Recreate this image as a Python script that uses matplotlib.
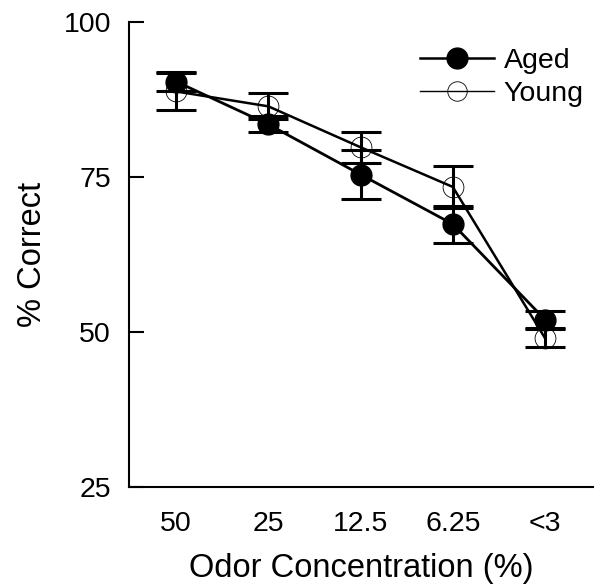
import matplotlib.pyplot as plt
from matplotlib.lines import Line2D

plt.rcParams['font.family'] = ['Liberation Sans', 'DejaVu Sans']

concentrations = ['50', '25', '12.5', '6.25', '<3']
aged = [90.4, 83.5, 75.4, 67.4, 52.0]
aged_err = [1.5, 1.3, 4.0, 3.0, 1.4]
young = [88.8, 86.4, 79.8, 73.4, 49.0]
young_err = [3.0, 2.1, 2.5, 3.4, 1.5]
y_ticks = [25, 50, 75, 100]

fig = plt.figure(figsize=(5.96, 5.87), dpi=100)
ax = fig.add_axes([0.2164, 0.1704, 0.7786, 0.7921])

x = list(range(len(concentrations)))

# error bars first, then lines + markers on top
ax.errorbar(x, young, yerr=young_err, fmt='none', ecolor='black',
            capsize=14.5, capthick=2.2, elinewidth=2.2, zorder=2)
ax.errorbar(x, aged, yerr=aged_err, fmt='none', ecolor='black',
            capsize=14.5, capthick=2.2, elinewidth=2.2, zorder=2)
ax.plot(x, young, color='black', lw=1.8, marker='o', ms=15,
        mfc='none', mec='black', mew=0.6, zorder=3)
ax.plot(x, aged, color='black', lw=2.0, marker='o', ms=15,
        mfc='black', mec='black', zorder=4)

ax.set_xlim(-0.51, 4.52)
ax.set_ylim(25, 100)
ax.set_yticks(y_ticks)
ax.set_xticks(x)
ax.set_xticklabels(concentrations)
ax.tick_params(axis='y', direction='in', length=11, width=1.5, labelsize=20.5, pad=13)
ax.tick_params(axis='x', length=0, labelsize=20.5, pad=17)

for s in ['top', 'right']:
    ax.spines[s].set_visible(False)
ax.spines['left'].set_linewidth(1.5)
ax.spines['bottom'].set_linewidth(1.5)

ax.set_xlabel('Odor Concentration (%)', fontsize=23.5, labelpad=12)
ax.set_ylabel('% Correct', fontsize=23.5, labelpad=11)

handles = [
    Line2D([], [], color='black', lw=1.8, marker='o', ms=15, mfc='black'),
    Line2D([], [], color='black', lw=1.0, marker='o', ms=14, mfc='none', mew=0.6),
]
ax.legend(handles, ['Aged', 'Young'], loc='upper right', frameon=False,
          fontsize=20.5, handlelength=2.6, handletextpad=0.35, labelspacing=0.25,
          bbox_to_anchor=(1.035, 1.0))

fig.savefig('out.png', dpi=100)
